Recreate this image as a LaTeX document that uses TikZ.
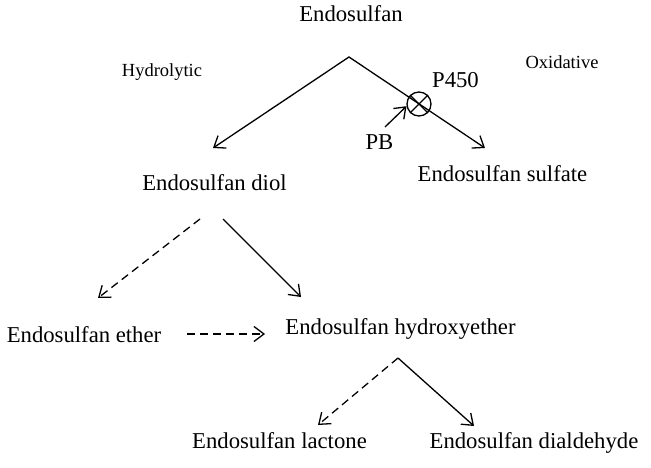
\documentclass[tikz,border=0pt]{standalone}
\usepackage{fontspec}
\setmainfont{Liberation Serif}
\usetikzlibrary{arrows.meta}
\begin{document}
\begin{tikzpicture}[x=1pt,y=-1pt,
    chem/.style={anchor=base,inner sep=0pt,font=\fontsize{22.7}{27}\selectfont},
    route/.style={anchor=base,inner sep=0pt,font=\fontsize{18.5}{22}\selectfont},
    react/.style={line width=1.3pt,-{Straight Barb[length=10pt,width=15pt]}},
    slow/.style={react,dash pattern=on 8pt off 5pt}]
    \useasboundingbox (0,0) rectangle (651,468);

    \node[chem] (endo) at (351,22) {Endosulfan};
    \node[route] (hydro) at (162,77) {Hydrolytic};
    \node[route] (oxid) at (562,69) {Oxidative};
    \node[chem] (diol) at (214.5,191) {Endosulfan diol};
    \node[chem] (sulf) at (502.5,182) {Endosulfan sulfate};
    \node[chem] (ether) at (84,342) {Endosulfan ether};
    \node[chem] (hyeth) at (400.5,334) {Endosulfan hydroxyether};
    \node[chem] (lact) at (279.5,448) {Endosulfan lactone};
    \node[chem] (dial) at (534,448) {Endosulfan dialdehyde};
    \node[chem] (p450) at (455.5,88) {P450};
    \node[chem] (pb) at (379.5,150) {PB};

    \coordinate (fork) at (349,57);
    \coordinate (diolin) at (213,148);
    \coordinate (sulfin) at (485,148);
    \coordinate (diolout1) at (200,219);
    \coordinate (diolout2) at (223,219);
    \coordinate (etherin) at (98,298);
    \coordinate (hyethin) at (301,297);
    \coordinate (etherout) at (187,334);
    \coordinate (hyethside) at (265,334);
    \coordinate (hyfork) at (398,358);
    \coordinate (lactin) at (318,425);
    \coordinate (dialin) at (474,426);
    \coordinate (pbout) at (385,127);

    \draw[line width=1.3pt,{Straight Barb[length=10pt,width=15pt]}-{Straight Barb[length=10pt,width=15pt]}]
        (diolin) -- (fork) -- (sulfin);
    \node[draw,circle,line width=1.3pt,minimum size=24pt,inner sep=0pt] (block) at (419,104) {};
    \draw[line width=1.3pt] (block.north west) -- (block.south east)
        (block.north east) -- (block.south west);
    \draw[react] (pbout) -- (block.190);

    \draw[slow] (diolout1) -- (etherin);
    \draw[react] (diolout2) -- (hyethin);
    \draw[slow] (etherout) -- (hyethside);
    \draw[slow] (hyfork) -- (lactin);
    \draw[react] (hyfork) -- (dialin);
\end{tikzpicture}
\end{document}
